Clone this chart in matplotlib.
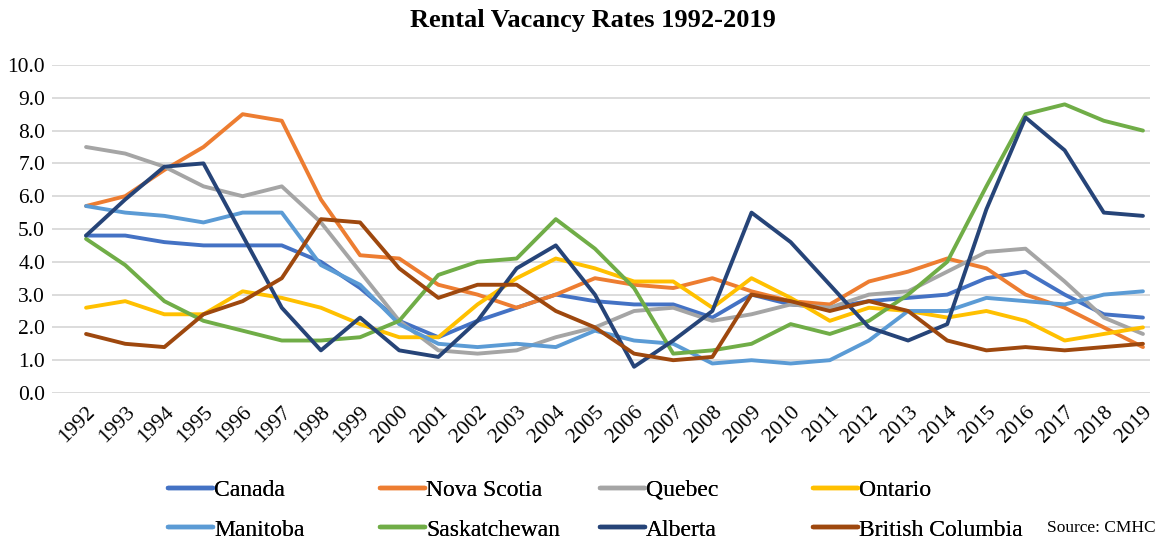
import matplotlib
matplotlib.use("Agg")
import matplotlib.pyplot as plt
from matplotlib.ticker import FormatStrFormatter

years = list(range(1992, 2020))

canada = [4.8, 4.8, 4.6, 4.5, 4.5, 4.5, 4.0, 3.2, 2.2, 1.7, 2.2, 2.6, 3.0, 2.8,
          2.7, 2.7, 2.3, 3.0, 2.7, 2.6, 2.8, 2.9, 3.0, 3.5, 3.7, 3.0, 2.4, 2.3]
nova_scotia = [5.7, 6.0, 6.8, 7.5, 8.5, 8.3, 5.9, 4.2, 4.1, 3.3, 3.0, 2.6, 3.0, 3.5,
               3.3, 3.2, 3.5, 3.1, 2.8, 2.7, 3.4, 3.7, 4.1, 3.8, 3.0, 2.6, 2.0, 1.4]
quebec = [7.5, 7.3, 6.9, 6.3, 6.0, 6.3, 5.2, 3.7, 2.2, 1.3, 1.2, 1.3, 1.7, 2.0,
          2.5, 2.6, 2.2, 2.4, 2.7, 2.6, 3.0, 3.1, 3.7, 4.3, 4.4, 3.4, 2.3, 1.8]
ontario = [2.6, 2.8, 2.4, 2.4, 3.1, 2.9, 2.6, 2.1, 1.7, 1.7, 2.7, 3.5, 4.1, 3.8,
           3.4, 3.4, 2.6, 3.5, 2.9, 2.2, 2.6, 2.5, 2.3, 2.5, 2.2, 1.6, 1.8, 2.0]
manitoba = [5.7, 5.5, 5.4, 5.2, 5.5, 5.5, 3.9, 3.3, 2.1, 1.5, 1.4, 1.5, 1.4, 1.9,
            1.6, 1.5, 0.9, 1.0, 0.9, 1.0, 1.6, 2.5, 2.5, 2.9, 2.8, 2.7, 3.0, 3.1]
saskatchewan = [4.7, 3.9, 2.8, 2.2, 1.9, 1.6, 1.6, 1.7, 2.2, 3.6, 4.0, 4.1, 5.3, 4.4,
                3.2, 1.2, 1.3, 1.5, 2.1, 1.8, 2.2, 3.0, 4.0, 6.3, 8.5, 8.8, 8.3, 8.0]
alberta = [4.8, 5.9, 6.9, 7.0, 4.8, 2.6, 1.3, 2.3, 1.3, 1.1, 2.2, 3.8, 4.5, 3.0,
           0.8, 1.6, 2.5, 5.5, 4.6, 3.3, 2.0, 1.6, 2.1, 5.6, 8.4, 7.4, 5.5, 5.4]
british_columbia = [1.8, 1.5, 1.4, 2.4, 2.8, 3.5, 5.3, 5.2, 3.8, 2.9, 3.3, 3.3, 2.5, 2.0,
                    1.2, 1.0, 1.1, 3.0, 2.8, 2.5, 2.8, 2.5, 1.6, 1.3, 1.4, 1.3, 1.4, 1.5]

series = [
    ('Canada', canada, '#4472C4'),
    ('Nova Scotia', nova_scotia, '#ED7D31'),
    ('Quebec', quebec, '#A5A5A5'),
    ('Ontario', ontario, '#FFC000'),
    ('Manitoba', manitoba, '#5B9BD5'),
    ('Saskatchewan', saskatchewan, '#70AD47'),
    ('Alberta', alberta, '#264478'),
    ('British Columbia', british_columbia, '#9E480E'),
]

plt.rcParams['font.family'] = ['Liberation Serif', 'DejaVu Serif']

fig = plt.figure(figsize=(11.62, 5.42), dpi=100)
ax = fig.add_axes([52 / 1162, 1 - 393 / 542, 1098 / 1162, 328 / 542])

linhas = []
for nome, valores, cor in series:
    l, = ax.plot(years, valores, color=cor, linewidth=2.8, label=nome,
                 solid_joinstyle='round', solid_capstyle='round')
    linhas.append(l)

ax.set_ylim(0, 10)
ax.set_xlim(1992 - 0.87, 2019 + 0.18)
ax.set_yticks(range(0, 11))
ax.yaxis.set_major_formatter(FormatStrFormatter('%.1f'))
ax.set_xticks(years)
ax.set_xticklabels([str(a) for a in years], rotation=45, ha='right',
                   rotation_mode='anchor')
ax.tick_params(axis='both', length=0, labelsize=15.5)
ax.tick_params(axis='x', pad=7)
ax.tick_params(axis='y', pad=5)
ax.grid(axis='y', color='#D9D9D9', linewidth=1.3)
ax.set_axisbelow(True)
for s in ax.spines.values():
    s.set_visible(False)

fig.text(593 / 1162, 1 - 21 / 542, 'Rental Vacancy Rates 1992-2019', ha='center',
         va='center', fontsize=19, fontweight='bold')

# legenda: 4 colunas, 2 linhas (ordem por linha como no Excel)
colunas_x = [168, 380, 600, 813]
for i, x in enumerate(colunas_x):
    hs = [linhas[i], linhas[i + 4]]
    leg = fig.legend(hs, [h.get_label() for h in hs], loc='center left',
                     bbox_to_anchor=(x / 1162, 1 - 510 / 542), frameon=False,
                     fontsize=17, handlelength=1.9, handletextpad=0.05,
                     labelspacing=0.78, borderpad=0, borderaxespad=0)
    for linha in leg.get_lines():
        linha.set_linewidth(3.2)
    fig.add_artist(leg)

fig.text(1156 / 1162, 1 - 528 / 542, 'Source: CMHC', ha='right', va='center',
         fontsize=12.5)

fig.savefig('out.png', dpi=100)
